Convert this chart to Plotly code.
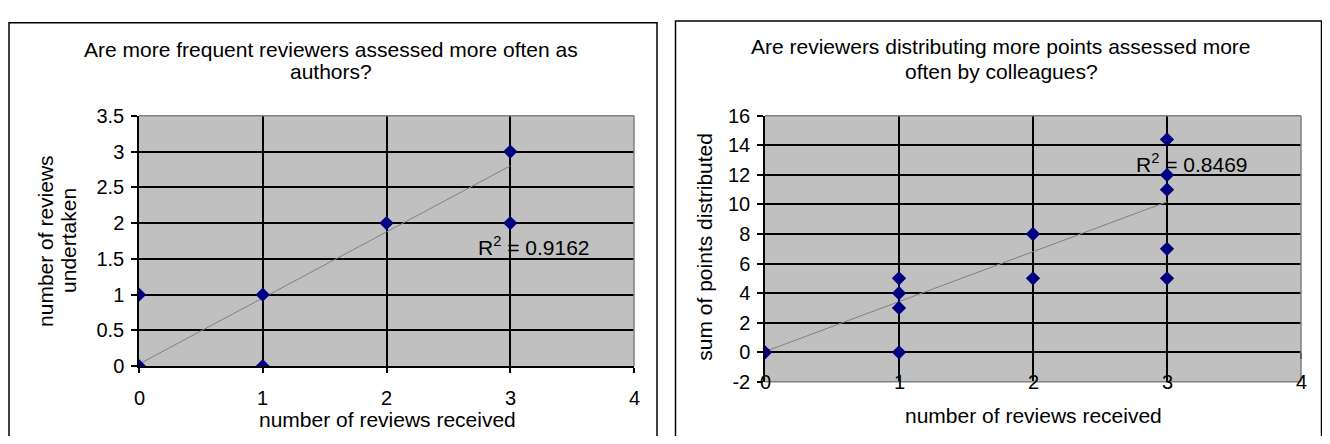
import plotly.graph_objects as go

# ---------------- data ----------------
left_x = [0, 0, 1, 1, 2, 3, 3]
left_y = [0, 1, 1, 0, 2, 3, 2]
left_trend_x = [0, 3]
left_trend_y = [0.03, 2.80]
left_r2 = "R<sup>2</sup> = 0.9162"
left_title_lines = ["Are more frequent reviewers assessed more often as", "authors?"]
left_xtitle = "number of reviews received"
left_ytitle_lines = ["number of reviews", "undertaken"]
left_yticks = [0, 0.5, 1, 1.5, 2, 2.5, 3, 3.5]
left_yticklabels = ["0", "0.5", "1", "1.5", "2", "2.5", "3", "3.5"]

right_x = [0, 1, 1, 1, 1, 2, 2, 3, 3, 3, 3, 3]
right_y = [0, 5, 4, 3, 0, 8, 5, 14.4, 12, 11, 7, 5]
right_trend_x = [0, 3]
right_trend_y = [0.05, 10.18]
right_r2 = "R<sup>2</sup> = 0.8469"
right_title_lines = ["Are reviewers distributing more points assessed more", "often by colleagues?"]
right_xtitle = "number of reviews received"
right_ytitle = "sum of points distributed"
right_yticks = [-2, 0, 2, 4, 6, 8, 10, 12, 14, 16]
right_yticklabels = ["-2", "0", "2", "4", "6", "8", "10", "12", "14", "16"]

xticks = [0, 1, 2, 3, 4]
xticklabels = ["0", "1", "2", "3", "4"]

# ---------------- layout helpers ----------------
PAGE_W, PAGE_H = 1330, 444
OFF = 8  # default body margin of the page
W, H = PAGE_W - 2 * OFF, PAGE_H - 2 * OFF
def xp(px):
    return (px - OFF) / W
def yp(py):
    return 1 - (py - OFF) / H

FONT = "Liberation Sans, Arial, sans-serif"
FS = 20
NAVY = "#000080"
GRID = "black"
PLOTBG = "#C0C0C0"

L_dom_x = [xp(139), xp(634)]
L_dom_y = [yp(374), yp(110)]
R_dom_x = [xp(765), xp(1301)]
R_dom_y = [yp(390.5), yp(110)]

fig = go.Figure()

fig.add_trace(go.Scatter(x=left_trend_x, y=left_trend_y, mode="lines",
                         line=dict(color="#808080", width=1), xaxis="x", yaxis="y",
                         showlegend=False, hoverinfo="skip"))
fig.add_trace(go.Scatter(x=left_x, y=left_y, mode="markers",
                         marker=dict(symbol="diamond", size=11, color=NAVY),
                         xaxis="x", yaxis="y", showlegend=False))
fig.add_trace(go.Scatter(x=right_trend_x, y=right_trend_y, mode="lines",
                         line=dict(color="#808080", width=1), xaxis="x2", yaxis="y2",
                         showlegend=False, hoverinfo="skip"))
fig.add_trace(go.Scatter(x=right_x, y=right_y, mode="markers",
                         marker=dict(symbol="diamond", size=11, color=NAVY),
                         xaxis="x2", yaxis="y2", showlegend=False))
fig.add_trace(go.Scatter(x=[xticks[0]], y=[0], mode="markers", opacity=0,
                         xaxis="x3", yaxis="y2", showlegend=False, hoverinfo="skip"))

tickfont = dict(family=FONT, size=FS, color="black")

fig.update_layout(
    width=W, height=H,
    margin=dict(l=0, r=0, t=0, b=0),
    paper_bgcolor="white",
    plot_bgcolor=PLOTBG,
    font=dict(family=FONT, size=21, color="black"),
    xaxis=dict(domain=L_dom_x, anchor="y", range=[0, 4], tickvals=xticks,
               showticklabels=False, ticks="outside", ticklen=5, tickcolor="black",
               tickwidth=1.5, showline=True, linecolor="black", linewidth=1.5,
               showgrid=True, gridcolor=GRID, gridwidth=1.5, zeroline=False,
               layer="below traces"),
    yaxis=dict(domain=L_dom_y, anchor="x", range=[0, 3.5], tickvals=left_yticks,
               ticktext=left_yticklabels, ticks="outside", ticklen=6,
               tickcolor="black", tickwidth=1.5, showline=True, linecolor="black",
               linewidth=1.5, showgrid=True, gridcolor=GRID, gridwidth=1.5,
               zeroline=False, tickfont=tickfont, layer="below traces",
               ticklabelstandoff=3),
    xaxis2=dict(domain=R_dom_x, anchor="y2", range=[0, 4], tickvals=xticks,
                showticklabels=False, ticks="", showline=False,
                showgrid=True, gridcolor=GRID, gridwidth=1.5, zeroline=False,
                layer="below traces"),
    xaxis3=dict(overlaying="x2", anchor="free",
                position=R_dom_y[0] + (0 - right_yticks[0]) / (right_yticks[-1] - right_yticks[0]) * (R_dom_y[1] - R_dom_y[0]),
                range=[0, 4], tickvals=xticks, showticklabels=False,
                ticks="outside", ticklen=6, tickcolor="black", tickwidth=1.5,
                showline=True, linecolor="black", linewidth=1.5,
                showgrid=False, zeroline=False, layer="below traces"),
    yaxis2=dict(domain=R_dom_y, anchor="x2", range=[-2, 16], tickvals=right_yticks,
                ticktext=right_yticklabels, ticks="outside", ticklen=6,
                tickcolor="black", tickwidth=1.5, showline=True, linecolor="black",
                linewidth=1.5, showgrid=True, gridcolor=GRID, gridwidth=1.5,
                zeroline=False, tickfont=tickfont, layer="below traces",
                ticklabelstandoff=3),
)

shapes = []
gray = dict(color="#808080", width=1.5)
shapes.append(dict(type="line", xref="x domain", yref="y domain", x0=0, x1=1, y0=1, y1=1, line=gray, layer="above"))
shapes.append(dict(type="line", xref="x domain", yref="y domain", x0=1, x1=1, y0=0, y1=1, line=gray, layer="above"))
shapes.append(dict(type="line", xref="x2 domain", yref="y2 domain", x0=0, x1=1, y0=1, y1=1, line=gray, layer="above"))
shapes.append(dict(type="line", xref="x2 domain", yref="y2 domain", x0=1, x1=1, y0=0, y1=1, line=gray, layer="above"))
shapes.append(dict(type="line", xref="x2 domain", yref="y2 domain", x0=0, x1=1, y0=0, y1=0, line=gray, layer="above"))
shapes.append(dict(type="rect", xref="paper", yref="paper", x0=xp(9), x1=xp(657), y0=-0.05, y1=yp(12),
                   line=dict(color="black", width=1.5), fillcolor="rgba(0,0,0,0)", layer="above"))
shapes.append(dict(type="rect", xref="paper", yref="paper", x0=xp(675.5), x1=xp(1321.5), y0=-0.05, y1=yp(10),
                   line=dict(color="black", width=1.5), fillcolor="rgba(0,0,0,0)", layer="above"))
fig.update_layout(shapes=shapes)

ann = []
for i, line in enumerate(left_title_lines):
    ann.append(dict(text=line, xref="paper", yref="paper", x=xp(331), y=yp(40 + 23 * i),
                    xanchor="center", yanchor="middle", showarrow=False))
for i, line in enumerate(right_title_lines):
    ann.append(dict(text=line, xref="paper", yref="paper", x=xp(1001), y=yp(37 + 26 * i),
                    xanchor="center", yanchor="middle", showarrow=False))
ann.append(dict(text=left_xtitle, xref="paper", yref="paper", x=xp(387), y=yp(430),
                xanchor="center", yanchor="middle", showarrow=False))
ann.append(dict(text=right_xtitle, xref="paper", yref="paper", x=xp(1033), y=yp(426),
                xanchor="center", yanchor="middle", showarrow=False))
for i, line in enumerate(left_ytitle_lines):
    ann.append(dict(text=line, xref="paper", yref="paper", x=xp(46 + 23 * i), y=yp(242),
                    xanchor="center", yanchor="middle", textangle=-90, showarrow=False))
ann.append(dict(text=right_ytitle, xref="paper", yref="paper", x=xp(705), y=yp(248),
                xanchor="center", yanchor="middle", textangle=-90, showarrow=False))
for v, t in zip(xticks, xticklabels):
    ann.append(dict(text=t, xref="x", yref="y", x=v, y=left_yticks[0], yshift=-32,
                    xanchor="center", yanchor="middle", showarrow=False, font=dict(size=FS)))
    ann.append(dict(text=t, xref="x2", yref="y2", x=v, y=right_yticks[0],
                    xanchor="center", yanchor="middle", showarrow=False, font=dict(size=FS)))
ann.append(dict(text=left_r2, xref="x", yref="y", x=3.19, y=1.68,
                xanchor="center", yanchor="middle", showarrow=False))
ann.append(dict(text=right_r2, xref="x2", yref="y2", x=3.19, y=12.8,
                xanchor="center", yanchor="middle", showarrow=False))
fig.update_layout(annotations=ann)

fig.write_html("out.html")
